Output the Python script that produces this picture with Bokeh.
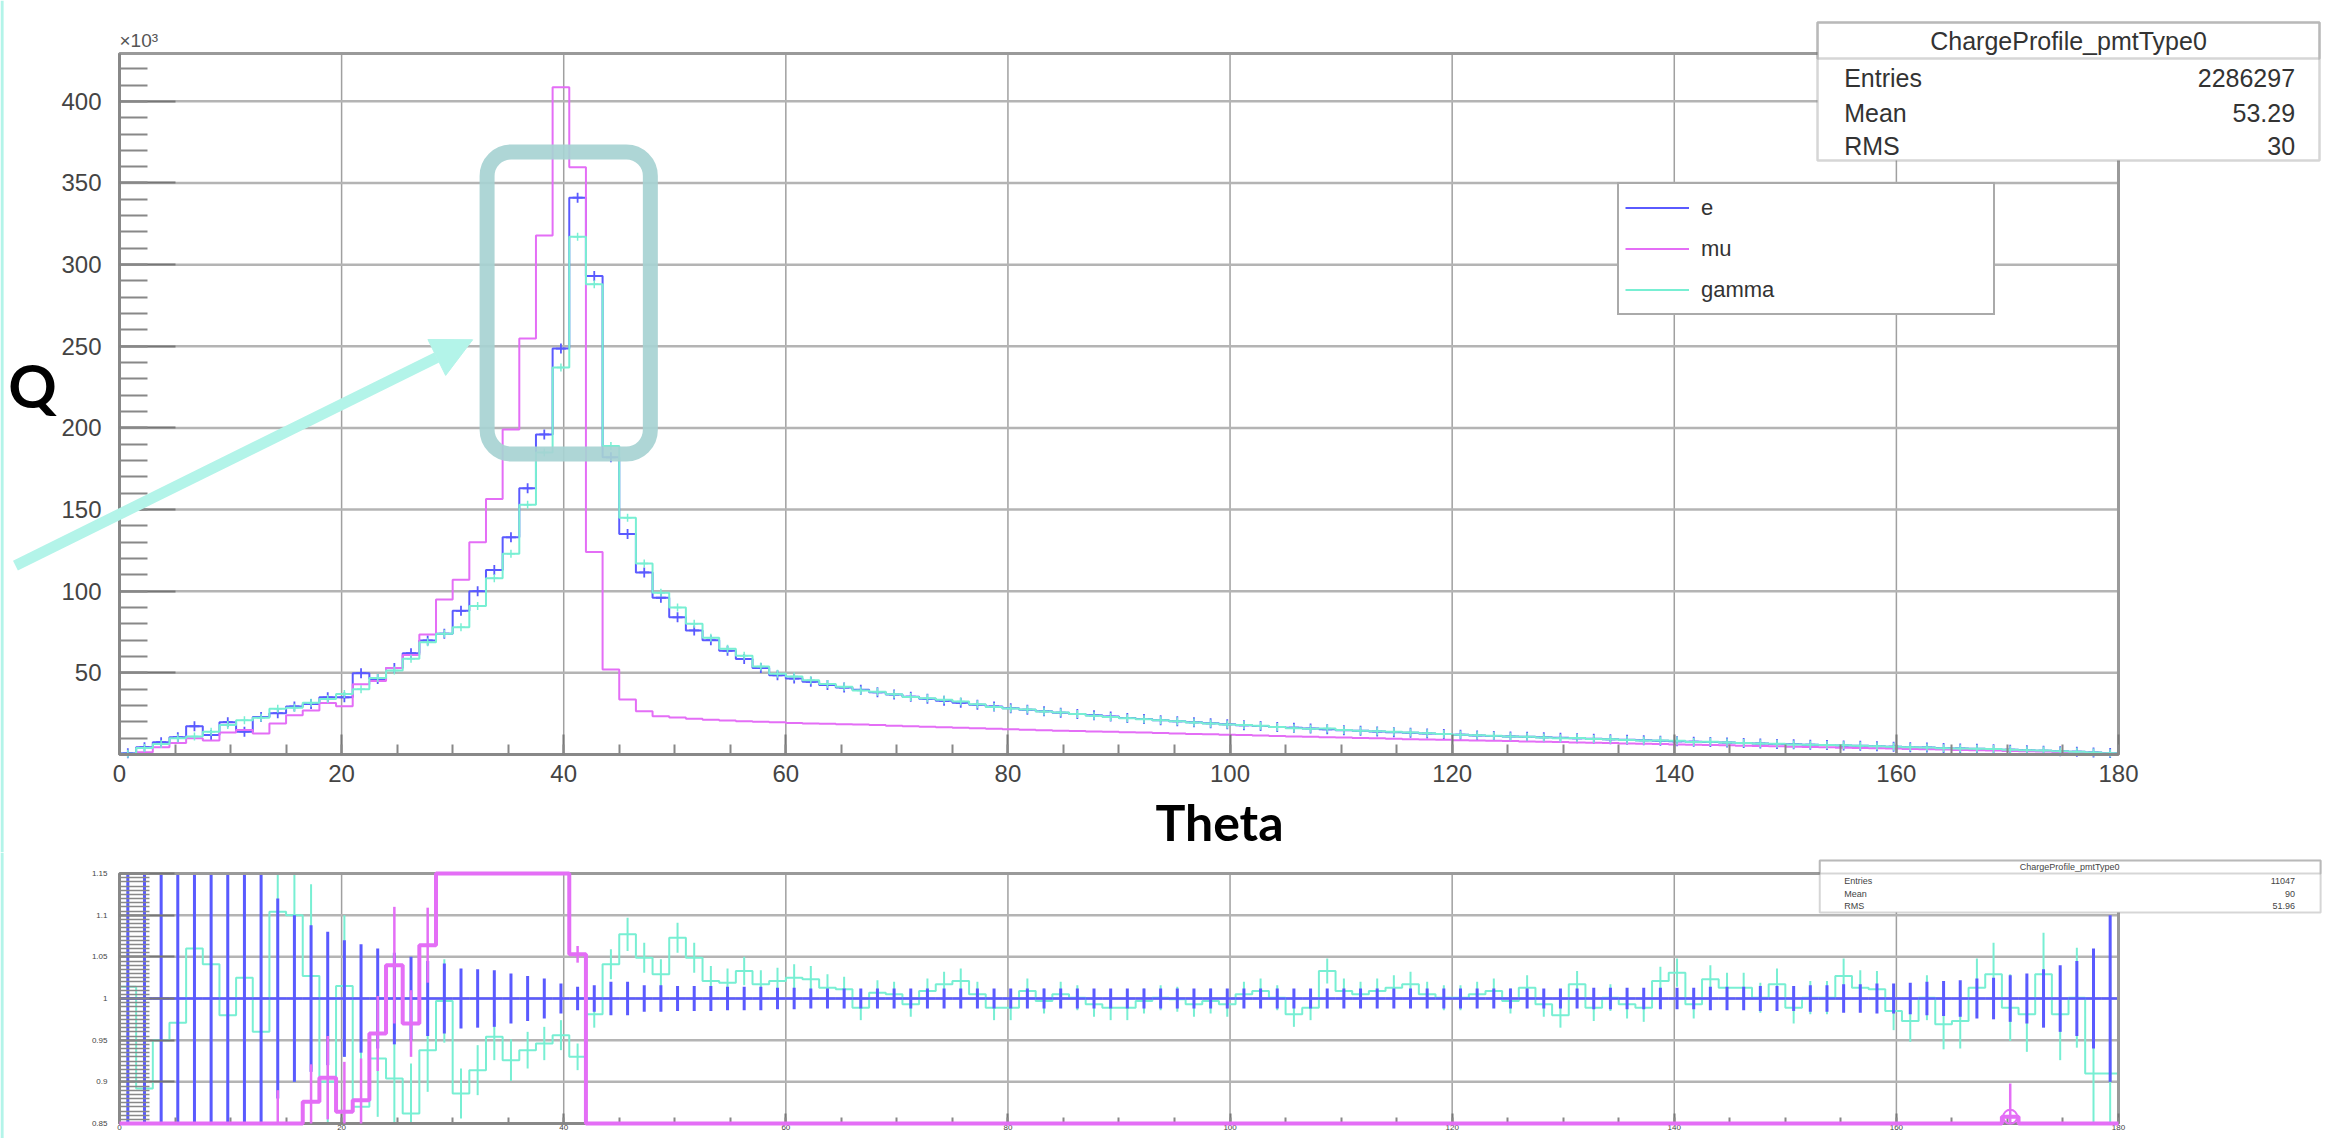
import numpy as np
from bokeh.plotting import figure
from bokeh.layouts import column
from bokeh.models import (FixedTicker, BoxAnnotation, Label, Arrow, NormalHead, LinearAxis,
                          Range1d, CustomJSTickFormatter, Legend, LegendItem)
from bokeh.embed import file_html
from bokeh.resources import INLINE

# ---------------- data ----------------
theta_edges = np.arange(0.0, 181.5, 1.5)          # 120 bins of 1.5 deg

# charge per bin, in units of 10^3
e_charge = [0.8, 4.5, 7.5, 10.6, 17.3, 12.0, 19.8, 14.0, 22.9, 25.3,
            29.4, 31.0, 35.0, 35.0, 49.8, 46.3, 52.9, 62.0, 69.8, 74.0,
            88.0, 100.0, 113.0, 133.0, 163.0, 196.0, 248.6, 341.0, 293.0, 182.0,
            135.0, 111.5, 96.0, 84.0, 76.0, 70.0, 63.5, 58.5, 53.0, 48.5,
            46.5, 44.5, 42.6, 41.0, 39.6, 38.1, 36.7, 35.4, 34.1, 32.9,
            31.7, 30.5, 29.4, 28.4, 27.4, 26.5, 25.6, 24.8, 24.0, 23.2,
            22.4, 21.7, 21.0, 20.3, 19.7, 19.1, 18.5, 17.9, 17.4, 16.9,
            16.4, 15.9, 15.4, 14.9, 14.5, 14.1, 13.7, 13.3, 12.9, 12.5,
            12.1, 11.7, 11.4, 11.1, 10.8, 10.5, 10.2, 9.9, 9.6, 9.3,
            9.0, 8.7, 8.4, 8.1, 7.8, 7.6, 7.3, 7.0, 6.8, 6.5,
            6.3, 6.0, 5.8, 5.5, 5.3, 5.0, 4.8, 4.5, 4.3, 4.0,
            3.7, 3.5, 3.2, 2.9, 2.6, 2.3, 2.0, 1.7, 1.3, 0.9]

mu_charge = [0.3, 1.4, 4.5, 7.0, 10.0, 8.6, 13.5, 15.0, 12.8, 19.0,
             24.0, 27.0, 31.5, 29.5, 43.0, 45.0, 53.0, 61.0, 73.5, 95.0,
             107.0, 130.0, 156.5, 199.0, 254.7, 317.8, 408.6, 359.7, 124.0, 52.0,
             33.7, 26.5, 23.5, 22.6, 21.9, 21.3, 20.8, 20.4, 20.0, 19.7,
             19.3, 19.0, 18.8, 18.5, 18.3, 18.0, 17.6, 17.3, 17.0, 16.7,
             16.4, 16.1, 15.8, 15.5, 15.2, 14.9, 14.6, 14.4, 14.1, 13.9,
             13.6, 13.4, 13.1, 12.9, 12.6, 12.4, 12.1, 11.9, 11.6, 11.4,
             11.1, 10.9, 10.6, 10.4, 10.1, 9.9, 9.6, 9.4, 9.2, 9.0,
             8.8, 8.6, 8.4, 8.2, 8.0, 7.8, 7.6, 7.4, 7.2, 7.0,
             6.8, 6.6, 6.4, 6.2, 6.0, 5.8, 5.6, 5.4, 5.2, 5.0,
             4.8, 4.6, 4.4, 4.2, 4.0, 3.8, 3.6, 3.4, 3.2, 3.0,
             2.8, 2.6, 2.4, 2.2, 2.0, 1.8, 1.5, 1.2, 0.9, 0.6]

gamma_charge = [0.5, 4.0, 6.5, 10.0, 11.0, 14.0, 18.0, 21.0, 22.5, 28.0,
                28.6, 31.7, 34.0, 37.0, 40.0, 46.9, 51.5, 58.6, 68.8, 74.0,
                78.0, 91.0, 108.0, 123.0, 153.0, 185.0, 237.0, 317.0, 288.0, 189.0,
                145.0, 117.0, 99.0, 90.0, 80.0, 71.5, 64.7, 60.4, 53.9, 49.5,
                47.7, 45.5, 43.2, 41.5, 39.2, 38.4, 36.9, 35.2, 34.4, 33.5,
                32.4, 30.7, 29.1, 28.1, 27.6, 26.4, 25.7, 24.8, 23.8, 22.9,
                22.2, 21.6, 21.0, 20.3, 19.6, 19.0, 18.4, 18.0, 17.6, 16.9,
                16.1, 15.7, 15.9, 15.0, 14.6, 14.2, 13.9, 13.5, 13.0, 12.5,
                12.1, 11.8, 11.5, 11.1, 10.9, 10.4, 10.0, 10.1, 9.5, 9.3,
                8.9, 8.6, 8.6, 8.4, 7.7, 7.8, 7.4, 7.1, 6.8, 6.6,
                6.2, 6.0, 5.8, 5.6, 5.4, 5.1, 4.7, 4.4, 4.3, 3.9,
                3.6, 3.5, 3.3, 2.9, 2.55, 2.4, 1.96, 1.7, 1.2, 0.8]

# ratio panel (as displayed, range 0.85 - 1.15)
gamma_ratio = [1.014, 0.892, 0.95, 0.971, 1.06, 1.041, 0.98, 1.025, 0.96, 1.104,
               1.10, 1.027, 0.90, 1.015, 0.87, 0.928, 0.904, 0.862, 0.938, 0.997,
               0.886, 0.914, 0.954, 0.926, 0.938, 0.946, 0.956, 0.93, 0.981, 1.041,
               1.077, 1.049, 1.029, 1.073, 1.049, 1.021, 1.019, 1.033, 1.017, 1.021,
               1.025, 1.023, 1.013, 1.011, 0.989, 1.007, 1.005, 0.993, 1.009, 1.017,
               1.021, 1.005, 0.989, 0.989, 1.009, 0.997, 1.005, 1.001, 0.993, 0.989,
               0.989, 0.997, 1.001, 0.999, 0.993, 0.997, 0.993, 1.005, 1.009, 1.001,
               0.981, 0.989, 1.033, 1.009, 1.005, 1.009, 1.013, 1.017, 1.005, 1.001,
               1.001, 1.005, 1.009, 0.997, 1.013, 0.993, 0.98, 1.017, 0.989, 1.001,
               0.993, 0.989, 1.021, 1.031, 0.993, 1.023, 1.013, 1.013, 1.001, 1.017,
               0.989, 1.001, 1.001, 1.027, 1.013, 1.011, 0.985, 0.973, 1.001, 0.969,
               0.973, 1.013, 1.029, 0.989, 0.981, 1.029, 0.981, 1.001, 0.91, 0.91]

gamma_ratio_err = [0.2, 0.2, 0.2, 0.2, 0.2, 0.2, 0.2, 0.2, 0.2, 0.2,
                   0.2, 0.11, 0.1, 0.085, 0.08, 0.07, 0.065, 0.06, 0.05, 0.05,
                   0.03, 0.03, 0.028, 0.025, 0.022, 0.02, 0.018, 0.016, 0.016, 0.018,
                   0.02, 0.018, 0.018, 0.018, 0.018, 0.018, 0.017, 0.017, 0.017, 0.016,
                   0.016, 0.016, 0.016, 0.015, 0.015, 0.015, 0.015, 0.015, 0.015, 0.015,
                   0.015, 0.015, 0.015, 0.015, 0.015, 0.015, 0.015, 0.015, 0.015, 0.015,
                   0.015, 0.015, 0.015, 0.015, 0.015, 0.015, 0.015, 0.015, 0.015, 0.015,
                   0.015, 0.015, 0.015, 0.015, 0.015, 0.015, 0.015, 0.015, 0.015, 0.015,
                   0.015, 0.015, 0.015, 0.015, 0.015, 0.015, 0.015, 0.016, 0.016, 0.016,
                   0.017, 0.017, 0.017, 0.017, 0.017, 0.017, 0.018, 0.018, 0.018, 0.019,
                   0.019, 0.02, 0.02, 0.021, 0.021, 0.022, 0.023, 0.025, 0.027, 0.03,
                   0.033, 0.035, 0.038, 0.04, 0.045, 0.05, 0.055, 0.06, 0.1, 0.12]

e_ratio_err = [0.2, 0.2, 0.2, 0.2, 0.2, 0.2, 0.2, 0.2, 0.2, 0.12,
               0.1, 0.088, 0.08, 0.07, 0.065, 0.06, 0.055, 0.05, 0.045, 0.042,
               0.036, 0.035, 0.034, 0.03, 0.027, 0.024, 0.018, 0.014, 0.016, 0.02,
               0.02, 0.016, 0.016, 0.015, 0.015, 0.015, 0.014, 0.014, 0.014, 0.013,
               0.013, 0.012, 0.012, 0.012, 0.012, 0.012, 0.012, 0.012, 0.012, 0.012,
               0.012, 0.012, 0.012, 0.012, 0.012, 0.012, 0.012, 0.012, 0.012, 0.012,
               0.012, 0.012, 0.012, 0.012, 0.012, 0.012, 0.012, 0.012, 0.012, 0.012,
               0.012, 0.012, 0.012, 0.012, 0.012, 0.012, 0.012, 0.012, 0.012, 0.012,
               0.012, 0.012, 0.012, 0.012, 0.012, 0.012, 0.012, 0.012, 0.013, 0.013,
               0.013, 0.013, 0.013, 0.013, 0.013, 0.014, 0.014, 0.014, 0.015, 0.015,
               0.015, 0.016, 0.016, 0.017, 0.017, 0.018, 0.018, 0.019, 0.02, 0.021,
               0.022, 0.024, 0.025, 0.028, 0.03, 0.035, 0.04, 0.045, 0.06, 0.1]

mu_ratio_shown = [0.85, 0.85, 0.85, 0.85, 0.85, 0.85, 0.85, 0.85, 0.85, 0.85,
                  0.85, 0.876, 0.905, 0.864, 0.878, 0.958, 1.04, 0.97, 1.064, 1.15,
                  1.15, 1.15, 1.15, 1.15, 1.15, 1.15, 1.15, 1.053, 0.85, 0.85,
                  0.85, 0.85, 0.85, 0.85, 0.85, 0.85, 0.85, 0.85, 0.85, 0.85,
                  0.85, 0.85, 0.85, 0.85, 0.85, 0.85, 0.85, 0.85, 0.85, 0.85,
                  0.85, 0.85, 0.85, 0.85, 0.85, 0.85, 0.85, 0.85, 0.85, 0.85,
                  0.85, 0.85, 0.85, 0.85, 0.85, 0.85, 0.85, 0.85, 0.85, 0.85,
                  0.85, 0.85, 0.85, 0.85, 0.85, 0.85, 0.85, 0.85, 0.85, 0.85,
                  0.85, 0.85, 0.85, 0.85, 0.85, 0.85, 0.85, 0.85, 0.85, 0.85,
                  0.85, 0.85, 0.85, 0.85, 0.85, 0.85, 0.85, 0.85, 0.85, 0.85,
                  0.85, 0.85, 0.85, 0.85, 0.85, 0.85, 0.85, 0.85, 0.85, 0.85,
                  0.85, 0.85, 0.85, 0.858, 0.85, 0.85, 0.85, 0.85, 0.85, 0.85]

mu_ratio_err = [0, 0, 0, 0, 0, 0, 0, 0, 0, 0.04,
                0, 0.045, 0.05, 0.06, 0.05, 0.045, 0.07, 0.04, 0.045, 0,
                0, 0, 0, 0, 0, 0, 0, 0.01, 0, 0,
                0, 0, 0, 0, 0, 0, 0, 0, 0, 0,
                0, 0, 0, 0, 0, 0, 0, 0, 0, 0,
                0, 0, 0, 0, 0, 0, 0, 0, 0, 0,
                0, 0, 0, 0, 0, 0, 0, 0, 0, 0,
                0, 0, 0, 0, 0, 0, 0, 0, 0, 0,
                0, 0, 0, 0, 0, 0, 0, 0, 0, 0,
                0, 0, 0, 0, 0, 0, 0, 0, 0, 0,
                0, 0, 0, 0, 0, 0, 0, 0, 0, 0,
                0, 0, 0, 0.04, 0, 0, 0, 0, 0, 0]

x_ticks = [0, 20, 40, 60, 80, 100, 120, 140, 160, 180]
q_ticks = [50, 100, 150, 200, 250, 300, 350, 400]
ratio_ticks = [0.85, 0.9, 0.95, 1.0, 1.05, 1.1, 1.15]
legend_labels = ["e", "mu", "gamma"]
stats_title = "ChargeProfile_pmtType0"
stats_main = [("Entries", "2286297"), ("Mean", "53.29"), ("RMS", "30")]
stats_ratio = [("Entries", "11047"), ("Mean", "90"), ("RMS", "51.96")]

# ---------------- layout / styling ----------------
E_COL = "#5a5aff"
MU_COL = "#e46ef6"
GA_COL = "#78efd3"
TEAL = "#a7d3d2"
ARROW_COL = "#b3f4e9"
FONT = "Liberation Sans"
W = 2330
TOP_H = 852
BOT_H = 286
Q_MAX = 429.3                      # top of the charge axis
R_MIN, R_MAX = 0.85, 1.15          # ratio axis
# data ranges chosen so the plotting boxes sit at the reference pixel positions
X_RANGE = (-10.715, 199.09)
TOP_Y_RANGE = (-60.016, 461.758)
BOT_Y_RANGE = (0.832, 1.1752)

lo = theta_edges[:-1]
hi = theta_edges[1:]
mid = (lo + hi) / 2.0


def step_y(v):
    return list(v) + [v[-1]]


def make_fig(height, y_range):
    p = figure(width=W, height=height, x_range=Range1d(*X_RANGE), y_range=Range1d(*y_range),
               output_backend="svg", toolbar_location=None,
               x_axis_location=None, y_axis_location=None,
               min_border=0, min_border_left=0, min_border_right=0,
               min_border_top=0, min_border_bottom=0)
    p.outline_line_color = None
    p.background_fill_color = "white"
    p.border_fill_color = "white"
    p.grid.visible = False
    # thin aquamarine slide edge on the far left
    p.quad(left=X_RANGE[0], right=X_RANGE[0] + 0.28, bottom=y_range[0], top=y_range[1],
           fill_color=ARROW_COL, line_color=None)
    return p


def style_axis(ax, font_size, standoff):
    ax.axis_line_color = "#888888"
    ax.axis_line_width = 3
    ax.major_tick_out = 0
    ax.minor_tick_out = 0
    ax.major_tick_line_color = "#777777"
    ax.minor_tick_line_color = "#888888"
    ax.major_tick_line_width = 2
    ax.minor_tick_line_width = 2
    ax.major_label_text_font = FONT
    ax.major_label_text_color = "#444444"
    ax.major_label_text_font_size = font_size
    ax.major_label_standoff = standoff


def grid_lines(p, xt, yt, y_lo, y_hi):
    inner_x = [t for t in xt if 0 < t < 180]
    p.segment(x0=inner_x, x1=inner_x, y0=[y_lo] * len(inner_x), y1=[y_hi] * len(inner_x),
              line_color="#a0a0a0", line_width=1.5, level="underlay")
    p.segment(x0=[0] * len(yt), x1=[180] * len(yt), y0=yt, y1=yt,
              line_color="#b4b4b4", line_width=2.5, level="underlay")


# ---------------- top panel ----------------
top = make_fig(TOP_H, TOP_Y_RANGE)
grid_lines(top, x_ticks, q_ticks, 0, Q_MAX)

r_e = top.step(theta_edges, step_y(e_charge), mode="after", line_color=E_COL, line_width=2)
top.scatter(mid, e_charge, marker="cross", size=10, line_color=E_COL, line_width=1.8)
r_mu = top.step(theta_edges, step_y(mu_charge), mode="after", line_color=MU_COL, line_width=2)
r_g = top.step(theta_edges, step_y(gamma_charge), mode="after", line_color=GA_COL, line_width=2)
top.scatter(mid, gamma_charge, marker="cross", size=8, line_color=GA_COL, line_width=1.5)

# plotting box outline
top.quad(left=0, right=180, bottom=0, top=Q_MAX, fill_color=None,
         line_color="#9a9a9a", line_width=3)

xax = LinearAxis(fixed_location=0, bounds=(0, 180),
                 ticker=FixedTicker(ticks=x_ticks, minor_ticks=list(range(0, 181, 5))))
style_axis(xax, "24px", 10)
xax.major_tick_in = 20
xax.minor_tick_in = 10
top.add_layout(xax, "below")
yax = LinearAxis(fixed_location=0, bounds=(0, Q_MAX),
                 ticker=FixedTicker(ticks=q_ticks, minor_ticks=list(range(0, 430, 10))))
style_axis(yax, "24px", 18)
yax.major_tick_in = 56
yax.minor_tick_in = 28
top.add_layout(yax, "left")

legend = Legend(items=[LegendItem(label=legend_labels[0], renderers=[r_e]),
                       LegendItem(label=legend_labels[1], renderers=[r_mu]),
                       LegendItem(label=legend_labels[2], renderers=[r_g])],
                location=(1617, 537), margin=0, padding=6, spacing=6,
                glyph_width=64, glyph_height=35, label_height=35, label_width=286,
                label_standoff=12, label_text_font=FONT, label_text_font_size="22px",
                label_text_color="#333333", border_line_color="#555555",
                border_line_width=2, background_fill_color="white", background_fill_alpha=1.0)
top.add_layout(legend)

# highlight box and arrow
top.add_layout(BoxAnnotation(left=33.1, right=47.8, top=369, bottom=184,
                             fill_alpha=0, line_color=TEAL, line_width=15,
                             line_alpha=0.92, border_radius=24))
top.add_layout(Arrow(end=NormalHead(size=40, fill_color=ARROW_COL, line_color=ARROW_COL),
                     x_start=-9.37, y_start=115.7, x_end=31.8, y_end=254,
                     line_color=ARROW_COL, line_width=11))

# axis titles and exponent
top.add_layout(Label(x=0, y=431.1, text="×10³", text_font=FONT, text_font_size="19px",
                     text_color="#555555", text_align="left", text_baseline="bottom"))
top.add_layout(Label(x=-7.83, y=226, text="Q", text_font="Lato", text_font_style="bold",
                     text_font_size="60px", text_color="black", text_align="center",
                     text_baseline="middle"))
top.add_layout(Label(x=99.05, y=-41.6, text="Theta", text_font="Lato", text_font_style="bold",
                     text_font_size="50px", text_color="black", text_align="center",
                     text_baseline="middle"))

# stats box (top)
top.add_layout(BoxAnnotation(left=152.9, right=198.1, top=448.3, bottom=363.7,
                             fill_color="white", fill_alpha=1.0, line_color="#777777", line_width=2.5))
top.add_layout(BoxAnnotation(left=152.9, right=198.1, top=448.3, bottom=426.2,
                             fill_alpha=0, line_color="#777777", line_width=2.5))
top.add_layout(Label(x=175.5, y=437.2, text=stats_title, text_font=FONT, text_font_size="25px",
                     text_color="#333333", text_align="center", text_baseline="middle"))
for (name, val), yy in zip(stats_main, [414.6, 393.1, 372.9]):
    top.add_layout(Label(x=155.3, y=yy, text=name, text_font=FONT, text_font_size="25px",
                         text_color="#333333", text_align="left", text_baseline="middle"))
    top.add_layout(Label(x=195.9, y=yy, text=val, text_font=FONT, text_font_size="25px",
                         text_color="#333333", text_align="right", text_baseline="middle"))

# ---------------- ratio panel ----------------
bot = make_fig(BOT_H, BOT_Y_RANGE)
grid_lines(bot, x_ticks, ratio_ticks[1:-1], R_MIN, R_MAX)

g = np.array(gamma_ratio)
ge = np.array(gamma_ratio_err)
e_self = np.array(e_charge) / np.array(e_charge)
ee = np.array(e_ratio_err)
m = np.array(mu_ratio_shown)
me = np.array(mu_ratio_err)

bot.step(theta_edges, step_y(gamma_ratio), mode="after", line_color=GA_COL, line_width=2)
bot.segment(x0=mid, y0=np.clip(g - ge, R_MIN, R_MAX), x1=mid, y1=np.clip(g + ge, R_MIN, R_MAX),
            line_color=GA_COL, line_width=2)
bot.segment(x0=lo, y0=e_self, x1=hi, y1=e_self, line_color=E_COL, line_width=2.5)
bot.segment(x0=mid, y0=np.clip(e_self - ee, R_MIN, R_MAX), x1=mid,
            y1=np.clip(e_self + ee, R_MIN, R_MAX), line_color=E_COL, line_width=3)

bot.quad(left=0, right=180, bottom=R_MIN, top=R_MAX, fill_color=None,
         line_color="#9a9a9a", line_width=3)

bx = LinearAxis(fixed_location=R_MIN, bounds=(0, 180),
                ticker=FixedTicker(ticks=x_ticks, minor_ticks=list(range(0, 181, 5))))
style_axis(bx, "8px", 1)
bx.major_tick_in = 10
bx.minor_tick_in = 6
bot.add_layout(bx, "below")
minor_r = [round(0.85 + 0.005 * k, 3) for k in range(61)]
by = LinearAxis(fixed_location=0, bounds=(R_MIN, R_MAX),
                ticker=FixedTicker(ticks=ratio_ticks, minor_ticks=minor_r),
                formatter=CustomJSTickFormatter(code="return String(Math.round(tick*100)/100);"))
style_axis(by, "8px", 12)
by.major_tick_in = 55
by.minor_tick_in = 30
by.minor_tick_line_width = 1.5
bot.add_layout(by, "left")

# mu / e ratio drawn above the frame lines, as in the reference
bot.step(theta_edges, step_y(mu_ratio_shown), mode="after", line_color=MU_COL, line_width=4,
         level="overlay")
has_me = me > 0
bot.segment(x0=mid[has_me], y0=np.clip(m - me, R_MIN, R_MAX)[has_me], x1=mid[has_me],
            y1=np.clip(m + me, R_MIN, R_MAX)[has_me], line_color=MU_COL, line_width=2.5,
            level="overlay")
bot.scatter(mid[113:114], m[113:114], marker="circle", size=14, fill_alpha=0,
            line_color=MU_COL, line_width=2, level="overlay")

# stats box (ratio)
bot.add_layout(BoxAnnotation(left=153.1, right=198.2, top=1.1656, bottom=1.1032,
                             fill_color="white", fill_alpha=1.0, line_color="#777777", line_width=2))
bot.add_layout(BoxAnnotation(left=153.1, right=198.2, top=1.1656, bottom=1.15,
                             fill_alpha=0, line_color="#777777", line_width=2))
bot.add_layout(Label(x=175.6, y=1.1578, text=stats_title, text_font=FONT, text_font_size="9px",
                     text_color="#444444", text_align="center", text_baseline="middle"))
for (name, val), yy in zip(stats_ratio, [1.1416, 1.126, 1.1116]):
    bot.add_layout(Label(x=155.3, y=yy, text=name, text_font=FONT, text_font_size="9px",
                         text_color="#444444", text_align="left", text_baseline="middle"))
    bot.add_layout(Label(x=195.9, y=yy, text=val, text_font=FONT, text_font_size="9px",
                         text_color="#444444", text_align="right", text_baseline="middle"))

layout = column(top, bot, spacing=0)
open("out.html", "w").write(file_html(layout, INLINE))
